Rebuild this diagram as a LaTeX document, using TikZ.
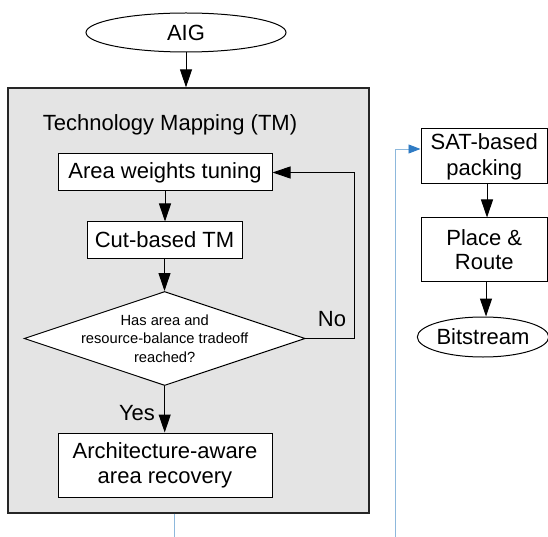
\documentclass[tikz,border=0pt]{standalone}
\usepackage{fontspec}
\setmainfont{Liberation Sans}
\usetikzlibrary{shapes.geometric,arrows.meta}
\definecolor{boxgray}{HTML}{E4E4E4}
\definecolor{linkblue}{HTML}{8DB8DC}
\definecolor{headblue}{HTML}{2F7BC4}
\tikzset{
  big/.style={font=\fontsize{22}{25}\selectfont},
  small/.style={font=\fontsize{14.7}{18.5}\selectfont},
  stepbox/.style={draw=black, line width=1pt, fill=white, rectangle, inner sep=0pt, align=center, big},
  termbox/.style={draw=black, line width=1pt, fill=white, ellipse, inner sep=0pt, big},
  arr/.style={line width=1pt, -{Triangle[length=18pt,width=12pt]}},
  plain/.style={line width=1pt},
  bluearr/.style={draw=linkblue, line width=0.9pt, -{Triangle[length=12pt,width=9pt,color=headblue,fill=headblue]}},
}
\begin{document}
\begin{tikzpicture}[x=1pt,y=-1pt]
\useasboundingbox (0,0) rectangle (548,537);
\clip (0,0) rectangle (548,537);
% group box
\node[draw=black!85, line width=1.3pt, fill=boxgray, minimum width=361, minimum height=425, inner sep=0pt] (tm) at (188.5,300.5) {};
\node[big, inner sep=0pt] (title) at (170,125) {Technology Mapping (TM)};
% nodes
\node[termbox, minimum width=200, minimum height=39] (aig) at (186,32.5) {AIG};
\node[stepbox, minimum width=214, minimum height=37] (area) at (165,172.5) {Area weights tuning};
\node[stepbox, minimum width=155, minimum height=36] (cut) at (164.5,240) {Cut-based TM};
\node[draw=black, line width=1pt, fill=white, diamond, minimum width=281, minimum height=94, inner sep=0pt] (dec) at (164.7,338.5) {};
\node[small, align=center, inner sep=0pt] (dectxt) at (dec.center) {Has area and\\resource-balance tradeoff\\reached?};
\node[stepbox, minimum width=214, minimum height=64, font=\fontsize{22}{25}\selectfont] (arch) at (165,465) {Architecture-aware\\area recovery};
\node[stepbox, minimum width=126.5, minimum height=55, font=\fontsize{22}{26}\selectfont] (sat) at (484.25,156.5) {SAT-based\\packing};
\node[stepbox, minimum width=126.5, minimum height=63, font=\fontsize{22}{24}\selectfont] (place) at (484.25,249.5) {Place \&\\Route};
\node[termbox, minimum width=115, minimum height=40] (bit) at (483,337) {Bitstream};
% labels
\node[big, inner sep=0pt] (no) at (332,319) {No};
\node[big, inner sep=0pt] (yes) at (137,413) {Yes};
% coordinates
\coordinate (loopc) at (354,172.5);
\coordinate (b1) at (174.5,545);
\coordinate (b2) at (395,545);
\coordinate (satin) at (395,149);
% connectors
\draw[arr] (aig.south) -- (aig.south |- tm.north);
\draw[arr] (area.south) -- (area.south |- cut.north);
\draw[arr] (cut.south) -- (cut.south |- dec.north);
\draw[arr] (dec.south) -- (dec.south |- arch.north);
\draw[arr] (dec.east) -| (loopc) -- (area.east);
\draw[arr] (sat.south -| 487,0) -- (place.north -| 487,0);
\draw[arr] (place.south -| 486,0) -- (bit.north -| 486,0);
\draw[bluearr] (tm.south -| b1) -- (b1) -- (b2) -- (satin) -- (sat.west |- satin);
\end{tikzpicture}
\end{document}
